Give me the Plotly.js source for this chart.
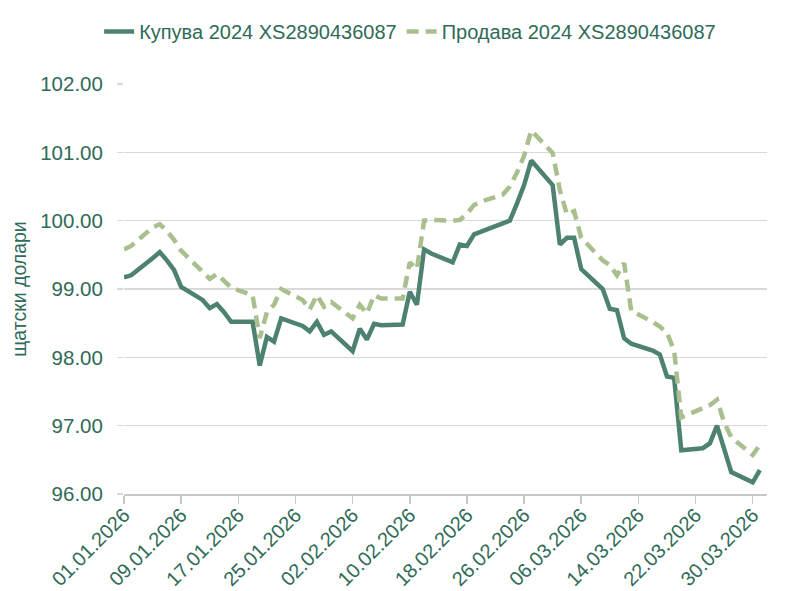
<!DOCTYPE html>
<html>
<head>
<meta charset="utf-8">
<script src="https://cdn.plot.ly/plotly-3.0.1.min.js"></script>
<style>html,body{margin:0;padding:0;background:#fff;}#chart{width:796px;height:591px;}</style>
</head>
<body>
<div id="chart"></div>
<script>
const dates = [
  '2026-01-01','2026-01-02','2026-01-05','2026-01-06','2026-01-07','2026-01-08','2026-01-09',
  '2026-01-12','2026-01-13','2026-01-14','2026-01-15','2026-01-16',
  '2026-01-19','2026-01-20','2026-01-21','2026-01-22','2026-01-23',
  '2026-01-26','2026-01-27','2026-01-28','2026-01-29','2026-01-30',
  '2026-02-02','2026-02-03','2026-02-04','2026-02-05','2026-02-06',
  '2026-02-09','2026-02-10','2026-02-11','2026-02-12','2026-02-13',
  '2026-02-16','2026-02-17','2026-02-18','2026-02-19','2026-02-20',
  '2026-02-23','2026-02-24','2026-02-25','2026-02-26','2026-02-27',
  '2026-03-02','2026-03-03','2026-03-04','2026-03-05','2026-03-06',
  '2026-03-09','2026-03-10','2026-03-11','2026-03-12','2026-03-13',
  '2026-03-16','2026-03-17','2026-03-18','2026-03-19','2026-03-20',
  '2026-03-23','2026-03-24','2026-03-25','2026-03-26','2026-03-27',
  '2026-03-30','2026-03-31'
];
const buyValues = [
  99.17,99.20,99.45,99.54,99.42,99.28,99.03,
  98.84,98.72,98.78,98.66,98.52,
  98.52,97.88,98.30,98.23,98.57,
  98.46,98.38,98.52,98.33,98.38,
  98.09,98.42,98.26,98.49,98.47,
  98.48,98.96,98.77,99.58,99.52,
  99.39,99.65,99.63,99.80,99.84,
  99.96,100.00,100.25,100.52,100.88,
  100.52,99.65,99.75,99.75,99.29,
  99.00,98.71,98.69,98.28,98.20,
  98.10,98.04,97.72,97.70,96.64,
  96.67,96.74,97.00,96.66,96.32,
  96.17,96.35
];
const sellValues = [
  99.58,99.63,99.90,99.95,99.85,99.72,99.56,
  99.25,99.15,99.22,99.12,99.02,
  98.91,98.28,98.66,98.77,99.00,
  98.84,98.70,98.91,98.74,98.81,
  98.57,98.77,98.64,98.91,98.86,
  98.86,99.39,99.29,100.00,100.01,
  100.00,100.01,100.10,100.23,100.28,
  100.38,100.50,100.70,100.95,101.32,
  100.99,100.45,100.09,100.14,99.75,
  99.42,99.35,99.20,99.38,98.68,
  98.52,98.45,98.36,98.10,97.12,
  97.26,97.30,97.38,97.05,96.83,
  96.57,96.72
];
const seriesNames = ['Купува 2024 XS2890436087','Продава 2024 XS2890436087'];
const yTitle = 'щатски долари';

const txt = '#2f6b57';
const font = 'Liberation Sans, Arial, sans-serif';

const traces = [
  {x: dates, y: buyValues, name: seriesNames[0], type: 'scatter', mode: 'lines',
   line: {color: '#4e8270', width: 4.5}},
  {x: dates, y: sellValues, name: seriesNames[1], type: 'scatter', mode: 'lines',
   line: {color: '#a9c08e', width: 4.5, dash: '12px,7px'}}
];

const layout = {
  width: 796, height: 591,
  margin: {l: 124, r: 29, t: 80, b: 97},
  paper_bgcolor: '#fff', plot_bgcolor: '#fff',
  font: {family: font, color: txt, size: 20},
  showlegend: true,
  legend: {orientation: 'h', x: 0.445, xanchor: 'center', y: 1.128, yanchor: 'middle',
           font: {family: font, size: 20, color: txt}, itemwidth: 30, tracegroupgap: 0},
  xaxis: {
    type: 'date', range: ['2026-01-01', '2026-04-01'],
    tick0: '2026-01-01', dtick: 8*86400000, tickformat: '%d.%m.%Y',
    tickangle: -45, tickfont: {family: font, size: 20, color: txt},
    showgrid: false, showline: true, linecolor: '#c8c8c8', linewidth: 1.5,
    ticks: 'outside', ticklen: 8, tickcolor: '#c8c8c8', tickwidth: 1.5,
    ticklabelstandoff: -8,
    automargin: false, zeroline: false
  },
  yaxis: {
    range: [96, 102], dtick: 1, tick0: 96, tickformat: '.2f',
    tickfont: {family: font, size: 20.5, color: txt},
    showgrid: true, gridcolor: '#d9d9d9', gridwidth: 1.5,
    showline: false, zeroline: false,
    ticks: 'outside', ticklen: 6, tickcolor: '#d9d9d9', tickwidth: 1.5,
    ticklabelstandoff: 10,
    title: {text: yTitle, font: {family: font, size: 19.5, color: txt}, standoff: 8},
    automargin: false
  }
};

Plotly.newPlot('chart', traces, layout, {displayModeBar: false, staticPlot: true});
</script>
</body>
</html>
